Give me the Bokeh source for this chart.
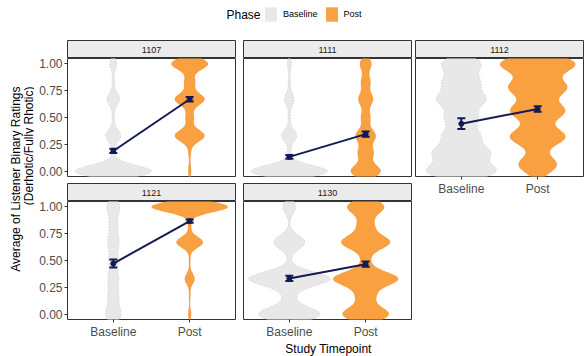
import numpy as np
from bokeh.plotting import figure
from bokeh.models import (Range1d, FixedTicker, Label, Legend, LegendItem,
                          Whisker, TeeHead, ColumnDataSource)
from bokeh.layouts import column, row
from bokeh.embed import file_html
from bokeh.resources import INLINE

# ---------------- data ----------------
participants = ["1107", "1111", "1112", "1121", "1130"]
phases = ["Baseline", "Post"]
y_ticks = [0.0, 0.25, 0.5, 0.75, 1.0]
y_tick_labels = ["0.00", "0.25", "0.50", "0.75", "1.00"]

baseline_mean = [0.188, 0.133, 0.442, 0.472, 0.333]
baseline_se = [0.020, 0.017, 0.050, 0.038, 0.025]
post_mean = [0.670, 0.345, 0.579, 0.867, 0.466]
post_se = [0.022, 0.025, 0.025, 0.015, 0.025]

# violin profiles: rating levels and full widths (x units) at each level
rating_levels = [0.0, 0.17, 0.33, 0.5, 0.67, 0.83, 1.0]
base_1107 = [1.00, 0.03, 0.20, 0.03, 0.17, 0.03, 0.09]
post_1107 = [0.04, 0.03, 0.39, 0.11, 0.39, 0.14, 0.48]
base_1111 = [1.00, 0.04, 0.20, 0.03, 0.13, 0.03, 0.05]
post_1111 = [0.39, 0.20, 0.26, 0.12, 0.19, 0.12, 0.15]
base_1112 = [0.88, 0.70, 0.45, 0.40, 0.60, 0.45, 0.50]
post_1112_levels = [0.06, 0.32, 0.56, 0.78, 1.0]
post_1112 = [0.50, 0.72, 0.70, 0.74, 0.97]
base_1121 = [0.20, 0.13, 0.13, 0.11, 0.14, 0.10, 0.17]
post_1121 = [0.04, 0.02, 0.13, 0.02, 0.35, 0.04, 1.00]
base_1130 = [0.80, 0.13, 1.06, 0.02, 0.41, 0.00, 0.17]
post_1130 = [0.60, 0.23, 0.84, 0.10, 0.63, 0.20, 0.48]

base_bw = [0.055, 0.055, 0.07, 0.07, 0.065]
post_bw = [0.055, 0.06, 0.08, 0.05, 0.065]

violin_base = [(rating_levels, base_1107), (rating_levels, base_1111),
               (rating_levels, base_1112), (rating_levels, base_1121),
               (rating_levels, base_1130)]
violin_post = [(rating_levels, post_1107), (rating_levels, post_1111),
               (post_1112_levels, post_1112), (rating_levels, post_1121),
               (rating_levels, post_1130)]

# ---------------- style ----------------
FONT = "Liberation Sans"
BASE_FILL = "#E8E8E8"
POST_FILL = "#F9A040"
NAVY = "#141A55"
BORDER = "#333333"
STRIP_FILL = "#EBEBEB"

FW, FH, SH = 168, 118, 18
x_lo, x_hi = 0.4, 2.6
y_lo, y_hi = -0.05, 1.05
yg = np.linspace(-0.35, 1.35, 681)


def outline(pos, levels, widths, bw):
    lv = np.asarray(levels, float)[:, None]
    wd = np.asarray(widths, float)[:, None]
    w = (wd * np.exp(-0.5 * ((yg[None, :] - lv) / bw) ** 2)).sum(axis=0)
    m = (yg >= lv.min() - 3 * bw) & (yg <= lv.max() + 3 * bw)
    yy, ww = yg[m], w[m]
    xs = np.concatenate([pos - ww / 2, (pos + ww / 2)[::-1]])
    ys = np.concatenate([yy, yy[::-1]])
    return xs, ys


def style_axes(p):
    for ax in p.axis:
        ax.axis_line_color = None
        ax.major_tick_in = 0
        ax.major_tick_out = 3
        ax.major_tick_line_color = BORDER
        ax.minor_tick_line_color = None
        ax.major_label_standoff = 2
        ax.major_label_text_font = FONT
        ax.major_label_text_font_size = "12px"
        ax.major_label_text_color = "#4D4D4D"


def panel(idx, left, right, bottom, show_x, show_y):
    p = figure(frame_width=FW, frame_height=FH,
               x_range=Range1d(x_lo, x_hi), y_range=Range1d(y_lo, y_hi),
               output_backend="svg", toolbar_location=None,
               x_axis_location="below" if show_x else None,
               y_axis_location="left" if show_y else None,
               min_border_left=left, min_border_right=right,
               min_border_top=0, min_border_bottom=bottom)
    p.grid.visible = False
    p.outline_line_color = BORDER
    p.outline_line_width = 1
    if show_x:
        p.xaxis.ticker = FixedTicker(ticks=[1, 2])
        p.xaxis.major_label_overrides = {i + 1: ph for i, ph in enumerate(phases)}
    if show_y:
        p.yaxis.ticker = FixedTicker(ticks=y_ticks)
        p.yaxis.major_label_overrides = dict(zip(y_ticks, y_tick_labels))
    style_axes(p)

    lv, wd = violin_base[idx]
    xs, ys = outline(1, lv, wd, base_bw[idx])
    p.patch(xs, ys, fill_color=BASE_FILL, line_color="#9E9E9E",
            line_width=0.6, line_dash="1 2", line_alpha=0.7)
    lv, wd = violin_post[idx]
    xs, ys = outline(2, lv, wd, post_bw[idx])
    p.patch(xs, ys, fill_color=POST_FILL, line_color="#9E9E9E",
            line_width=0.6, line_dash="1 2", line_alpha=0.4)

    means = [baseline_mean[idx], post_mean[idx]]
    ses = [baseline_se[idx], post_se[idx]]
    src = ColumnDataSource(dict(
        x=[1, 2], m=means,
        lower=[m - s for m, s in zip(means, ses)],
        upper=[m + s for m, s in zip(means, ses)]))
    p.add_layout(Whisker(base="x", lower="lower", upper="upper", source=src,
                         dimension="height", line_color=NAVY, line_width=2,
                         level="annotation",
                         upper_head=TeeHead(size=8, line_color=NAVY, line_width=2),
                         lower_head=TeeHead(size=8, line_color=NAVY, line_width=2)))
    p.line("x", "m", source=src, line_color=NAVY, line_width=2)
    p.scatter("x", "m", source=src, size=5, fill_color=NAVY, line_color=NAVY)
    return p


def strip(idx, left, right):
    s = figure(frame_width=FW, frame_height=SH,
               x_range=Range1d(x_lo, x_hi), y_range=Range1d(0, 1),
               output_backend="svg", toolbar_location=None,
               x_axis_location=None, y_axis_location=None,
               min_border_left=left, min_border_right=right,
               min_border_top=1, min_border_bottom=0,
               background_fill_color=STRIP_FILL)
    s.grid.visible = False
    s.outline_line_color = BORDER
    s.outline_line_width = 1
    s.add_layout(Label(x=(x_lo + x_hi) / 2, y=0.5, text=participants[idx],
                       text_align="center", text_baseline="middle",
                       text_font=FONT, text_font_size="9px",
                       text_color="#1A1A1A"))
    return s


def blank(w, h):
    f = figure(frame_width=w, frame_height=h, x_range=Range1d(0, w),
               y_range=Range1d(0, h), output_backend="svg",
               toolbar_location=None, x_axis_location=None,
               y_axis_location=None, min_border_left=0, min_border_right=0,
               min_border_top=0, min_border_bottom=0)
    f.grid.visible = False
    f.outline_line_color = None
    return f


YLAB_W = 34
col1 = column(strip(0, 33, 1), panel(0, 33, 1, 6, False, True),
              strip(3, 33, 1), panel(3, 33, 1, 20, True, True))
col2 = column(strip(1, 7, 1), panel(1, 7, 1, 6, False, False),
              strip(4, 7, 1), panel(4, 7, 1, 20, True, False))
col3 = column(strip(2, 3, 1), panel(2, 3, 1, 20, True, False))

TOTAL_W = YLAB_W + (33 + FW + 1) + (7 + FW + 1) + (3 + FW + 1)
GRID_H = (1 + SH) + (FH + 6) + (1 + SH) + (FH + 20)
LEG_H = 39
XLAB_H = 15

# y axis title
ylab = blank(YLAB_W, GRID_H)
ylab.add_layout(Label(x=15, y=GRID_H - 47, text="Average of Listener Binary Ratings",
                      angle=np.pi / 2, text_align="right", text_baseline="middle",
                      text_font=FONT, text_font_size="12px", text_color="black"))
ylab.add_layout(Label(x=28, y=GRID_H - 47, text="(Derhotic/Fully Rhotic)",
                      angle=np.pi / 2, text_align="right", text_baseline="middle",
                      text_font=FONT, text_font_size="12px", text_color="black"))

# legend
leg = blank(TOTAL_W, LEG_H)
r_base = leg.quad(left=[np.nan], right=[np.nan], top=[np.nan], bottom=[np.nan],
                  fill_color=BASE_FILL, line_color=None)
r_post = leg.quad(left=[np.nan], right=[np.nan], top=[np.nan], bottom=[np.nan],
                  fill_color=POST_FILL, line_color=None)
legend = Legend(items=[LegendItem(label=phases[0], renderers=[r_base]),
                       LegendItem(label=phases[1], renderers=[r_post])],
                orientation="horizontal", location=(263, LEG_H - 23), padding=0,
                margin=0, spacing=6, glyph_width=15, glyph_height=18,
                label_standoff=5, label_height=18, label_width=10,
                label_text_font=FONT, label_text_font_size="9px",
                label_text_color="black", border_line_color=None,
                background_fill_alpha=0)
leg.add_layout(legend)
leg.add_layout(Label(x=226, y=LEG_H - 14, text="Phase", text_align="left",
                     text_baseline="middle", text_font=FONT,
                     text_font_size="12px", text_color="black"))

# x axis title
xlab = blank(TOTAL_W, XLAB_H)
xlab.add_layout(Label(x=328, y=XLAB_H - 7, text="Study Timepoint", text_align="center",
                      text_baseline="middle", text_font=FONT,
                      text_font_size="12px", text_color="black"))

layout = column(leg, row(ylab, col1, col2, col3), xlab)

open("out.html", "w").write(file_html(layout, INLINE))
